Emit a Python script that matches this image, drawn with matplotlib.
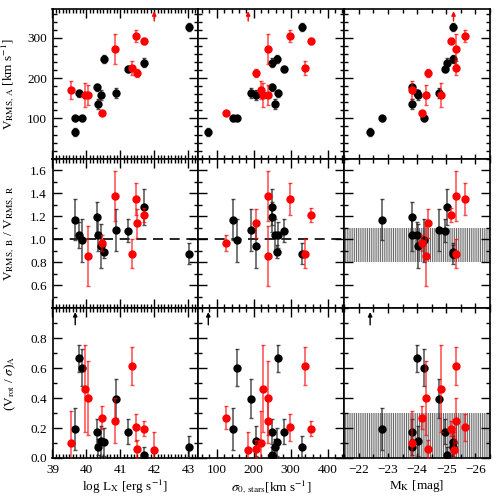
import numpy as np
import matplotlib
matplotlib.use("Agg")
import matplotlib.pyplot as plt
import matplotlib.transforms as mtransforms
from matplotlib.ticker import MultipleLocator, FixedLocator

nan = np.nan

# black sample
lx_blk = [39.67, 39.67, 39.78, 39.88, 40.32, 40.35, 40.43, 40.52, 40.87, 41.22, 41.70, 43.02]
sig_blk = [77, 145, 267, 154, 249, 259, 207, 264, 192, 283, 249, 331]
mk_blk = [-22.39, -22.79, -24.01, -24.22, -23.82, -23.82, -24.03, -25.24, -24.74, -24.94, -25.04, -25.24]
vrms_blk = [67, 100, 162, 100, 177, 136, 158, 248, 164, 223, 239, 328]
vrms_err_blk = [10, 6, 8, 6, 8, 12, 12, 10, 12, 8, 12, 10]
ratio_blk = [nan, 1.17, 1.035, 0.99, 1.196, 1.035, 0.94, 0.893, 1.08, 1.072, 1.283, 0.876]
ratio_err_blk = [nan, 0.18, 0.115, 0.19, 0.13, 0.14, 0.19, 0.06, 0.18, 0.10, 0.155, 0.09]
vsig_blk = [nan, 0.194, 0.667, 0.604, 0.176, 0.074, 0.113, 0.108, 0.395, 0.176, 0.023, 0.074]
vsig_err_blk = [nan, 0.14, 0.09, 0.125, 0.085, 0.055, 0.10, 0.095, 0.13, 0.085, 0.05, 0.07]

# red sample
lx_red = [39.55, 39.96, 40.05, 40.45, 40.85, 41.33, 41.46, 41.49, 41.70, 42.00]
sig_red = [219, 224, 238, 125, 240, 340, 298, 207, 356, 185]
mk_red = [-23.82, -24.81, -24.32, -24.18, -25.33, -25.33, -25.64, -24.37, -25.16, -25.25]
vrms_red = [171, 158, 159, 114, 273, 225, 305, 212, 292, nan]
vrms_err_red = [23, 30, 25, 5, 37, 17, 15, 10, 8, nan]
ratio_red = [nan, nan, 0.855, 0.97, 1.375, 0.876, 1.352, 1.14, 1.21, nan]
ratio_err_red = [nan, nan, 0.26, 0.07, 0.215, 0.125, 0.14, 0.125, 0.06, nan]
vsig_red = [0.097, 0.462, 0.401, 0.27, 0.25, 0.615, 0.205, 0.057, 0.194, 0.052]
vsig_err_red = [0.22, 0.29, 0.25, 0.075, 0.15, 0.125, 0.09, 0.06, 0.05, 0.12]

# objects off the top of a row (drawn as arrows)
vrms_up_red = 9
vsig_up_blk = 0

plt.rcParams["font.family"] = ["Liberation Serif", "DejaVu Serif"]
plt.rcParams["mathtext.fontset"] = "stix"
plt.rcParams["font.size"] = 9.5
plt.rcParams["hatch.linewidth"] = 0.7

fig, axes = plt.subplots(3, 3, figsize=(5, 5), dpi=100)
fig.subplots_adjust(left=0.105, right=0.98, bottom=0.084, top=0.982,
                    wspace=0, hspace=0)

xcols = [(lx_blk, lx_red), (sig_blk, sig_red), (mk_blk, mk_red)]
yrows = [
    (vrms_blk, vrms_err_blk, vrms_red, vrms_err_red),
    (ratio_blk, ratio_err_blk, ratio_red, ratio_err_red),
    (vsig_blk, vsig_err_blk, vsig_red, vsig_err_red),
]
xlims = [(39, 43.3), (50, 445), (-21.5, -26.5)]
xmajor = [1, 100, 1]
xminor = [0.1, 20, 0.5]
ylims = [(0, 372), (0.4, 1.7), (0, 1.0)]
yticks = [[100, 200, 300], [0.6, 0.8, 1.0, 1.2, 1.4, 1.6], [0.0, 0.2, 0.4, 0.6, 0.8]]
yminor = [20, 0.1, 0.1]
bands = {1: (0.8, 1.1), 2: (0.0, 0.3)}
xlabels = [r"log L$_{\rm X}$ [erg s$^{-1}$]",
           r"$\sigma_{0,\,\rm stars}$[km s$^{-1}$]",
           r"M$_{\rm K}$ [mag]"]
ylabels = [r"V$_{\rm RMS,\,A}$ [km s$^{-1}$]",
           r"V$_{\rm RMS,\ B}$ / V$_{\rm RMS,\ R}$",
           r"(V$_{\rm rot}$ / $\sigma$)$_{\rm A}$"]

for r in range(3):
    yb, eb, yr, er = yrows[r]
    for c in range(3):
        ax = axes[r, c]
        xb, xr = xcols[c]
        ax.errorbar(xb, yb, yerr=eb, fmt="o", color="black", ms=5,
                    ecolor=(0.15, 0.15, 0.15, 0.8), elinewidth=1.1, capsize=1.2, zorder=3)
        ax.errorbar(xr, yr, yerr=er, fmt="o", color="red", ms=5,
                    ecolor=(1, 0, 0, 0.7), elinewidth=1.1, capsize=1.2, zorder=4)

        trans = mtransforms.blended_transform_factory(ax.transData, ax.transAxes)
        if r == 0:
            ax.annotate("", xy=(xr[vrms_up_red], 0.985), xytext=(xr[vrms_up_red], 0.92),
                        xycoords=trans, textcoords=trans,
                        arrowprops=dict(arrowstyle="-|>", color="red", lw=1,
                                        mutation_scale=6, shrinkA=0, shrinkB=0))
        if r == 2:
            ax.annotate("", xy=(xb[vsig_up_blk], 0.975), xytext=(xb[vsig_up_blk], 0.89),
                        xycoords=trans, textcoords=trans,
                        arrowprops=dict(arrowstyle="-|>", color="black", lw=1,
                                        mutation_scale=6, shrinkA=0, shrinkB=0))

        if r == 1 and c < 2:
            ax.axhline(1.0, color="black", ls=(0, (6, 4)), lw=1.2, zorder=1)
        if c == 2 and r in bands:
            ax.axhspan(*bands[r], facecolor="none", edgecolor="0.4",
                       hatch="|||||||||", lw=0, zorder=0)

        ax.set_xlim(*xlims[c])
        ax.set_ylim(*ylims[r])
        ax.xaxis.set_major_locator(MultipleLocator(xmajor[c]))
        ax.xaxis.set_minor_locator(MultipleLocator(xminor[c]))
        ax.yaxis.set_major_locator(FixedLocator(yticks[r]))
        ax.yaxis.set_minor_locator(MultipleLocator(yminor[r]))
        ax.tick_params(which="both", direction="in", top=True, right=True, width=1.0)
        ax.tick_params(which="major", length=6.5, pad=4)
        ax.tick_params(which="minor", length=3.2)
        if c == 2:
            ax.tick_params(axis="x", which="major", length=3.5)
        for sp in ax.spines.values():
            sp.set_linewidth(1.2)

        if c == 0:
            ax.set_ylabel(ylabels[r], fontsize=9.5)
            ax.yaxis.set_label_coords(-0.24, 0.5)
        else:
            ax.tick_params(labelleft=False)
        if r == 2:
            ax.set_xlabel(xlabels[c], fontsize=9.5, labelpad=2)
        else:
            ax.tick_params(labelbottom=False)

fig.savefig("out.png", dpi=100)
